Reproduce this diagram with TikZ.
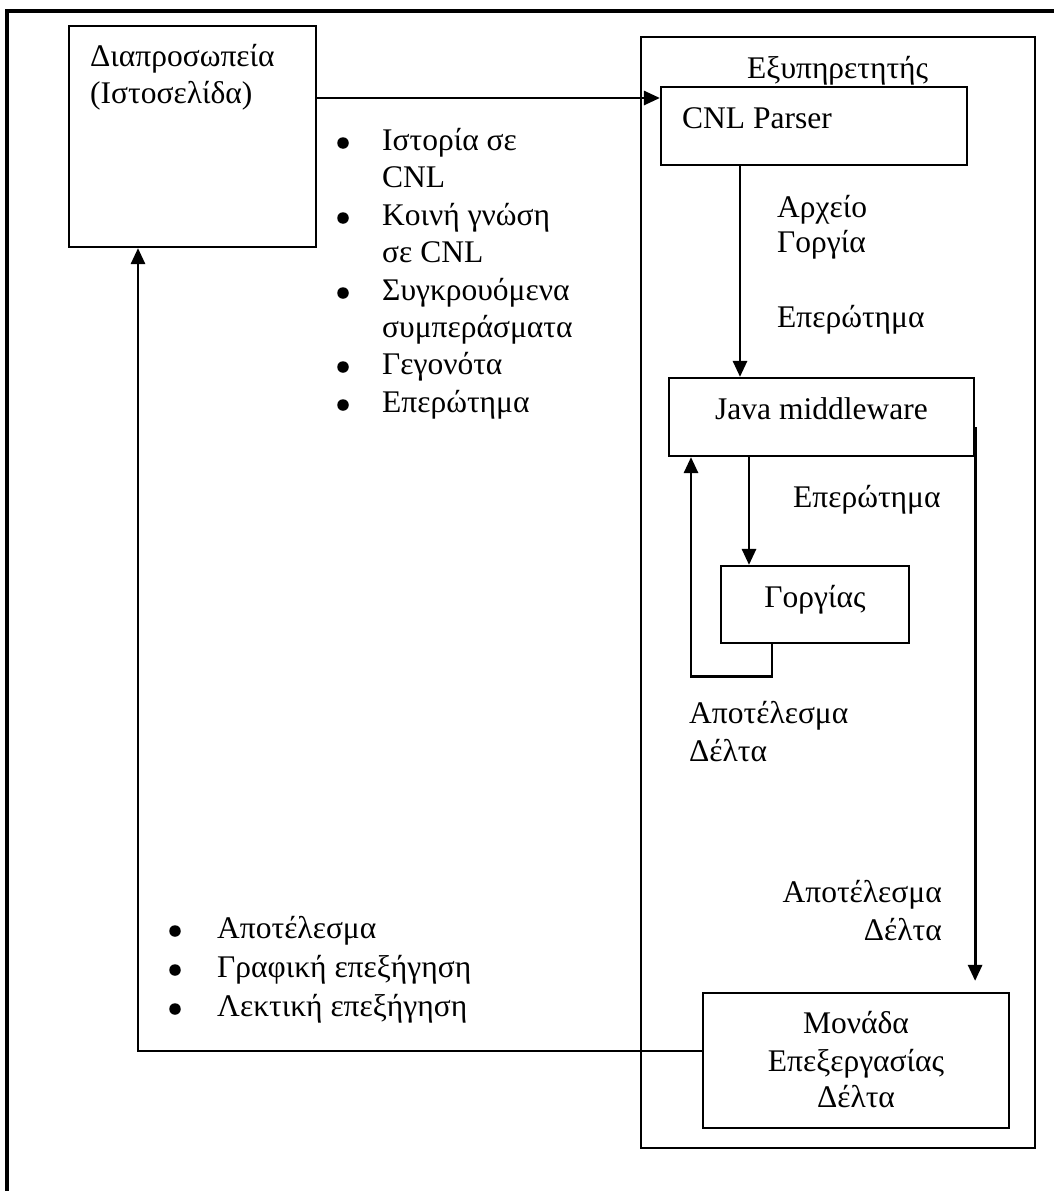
\documentclass[tikz,border=0pt]{standalone}
\usepackage{fontspec}
\setmainfont{Liberation Serif}
\usetikzlibrary{arrows.meta}

\begin{document}
\begin{tikzpicture}[
    x=1pt, y=-1pt,
    box/.style={draw, line width=2.2pt, inner sep=0pt},
    txt/.style={inner sep=0pt, anchor=base west},
    ctxt/.style={inner sep=0pt, anchor=base},
    rtxt/.style={inner sep=0pt, anchor=base east},
    dot/.style={circle, fill=black, inner sep=0pt, minimum size=11.5pt},
    conn/.style={line width=2.8pt},
    >={Triangle[length=16pt, width=14pt]},
    font=\fontsize{31.5}{38}\selectfont
]
    \useasboundingbox (0,0) rectangle (1053,1191);

    % outer frame (open to the right and below)
    \draw[line width=3.2pt] (1060,11) -- (7,11) -- (7,1200);

    % boxes
    \node[box, minimum width=247pt, minimum height=221pt] (iface) at (192.5,136.5) {};   % Διαπροσωπεία
    \node[box, minimum width=394pt, minimum height=1111pt] (server) at (838,592.5) {};   % Εξυπηρετητής
    \node[box, minimum width=306pt, minimum height=78pt] (cnl) at (814,126) {};          % CNL Parser
    \node[box, minimum width=305pt, minimum height=78pt] (java) at (821.5,417) {};       % Java middleware
    \node[box, minimum width=188pt, minimum height=77pt] (gorg) at (815,604.5) {};       % Γοργίας
    \node[box, minimum width=306pt, minimum height=135pt] (monada) at (856,1060.5) {};   % Μονάδα

    % box texts
    \node[txt] (ifaceA) at (90,66) {Διαπροσωπεία};
    \node[txt] (ifaceB) at (90,103) {(Ιστοσελίδα)};
    \node[txt] (servlbl) at (747,78) {Εξυπηρετητής};
    \node[txt] (cnllbl) at (682,128) {CNL Parser};
    \node[ctxt] (javalbl) at (821.5,419) {Java middleware};
    \node[ctxt] (gorglbl) at (815,607) {Γοργίας};
    \node[ctxt] (monA) at (856,1033) {Μονάδα};
    \node[ctxt] (monB) at (856,1071) {Επεξεργασίας};
    \node[ctxt] (monC) at (856,1107) {Δέλτα};

    % 1. Διαπροσωπεία -> CNL Parser
    \draw[conn, ->] ([yshift=38.5pt]iface.east) -- ([yshift=38.5pt]iface.east -| cnl.west);

    % 2. CNL Parser -> Java middleware
    \draw[conn, ->] ([xshift=-74pt]cnl.south) -- ([xshift=-74pt]cnl.south |- java.north);

    % 3. Java middleware -> Γοργίας and back
    \draw[conn, ->] ([xshift=-72.5pt]java.south) -- ([xshift=-72.5pt]java.south |- gorg.north);
    \draw[conn, ->] ([xshift=-43pt]gorg.south) -- ++(0,32) -| ([xshift=-130.5pt]java.south);

    % 4. Java middleware -> Μονάδα
    \draw[conn, ->] ([yshift=-10pt]java.east) -- ([yshift=11pt]java.east |- monada.north);

    % 5. Μονάδα -> Διαπροσωπεία
    \draw[conn, ->] ([yshift=9.5pt]monada.west) -| ([xshift=-54.5pt]iface.south);

    % connector labels
    \node[txt] (arxA) at (777,217) {Αρχείο};
    \node[txt] (arxB) at (777,252) {Γοργία};
    \node[txt] (qry1) at (777,327) {Επερώτημα};
    \node[txt] (qry2) at (793,507) {Επερώτημα};
    \node[txt] (resA) at (689,723) {Αποτέλεσμα};
    \node[txt] (resB) at (689,761) {Δέλτα};
    \node[rtxt] (outA) at (942,902) {Αποτέλεσμα};
    \node[rtxt] (outB) at (942,940) {Δέλτα};

    % input list
    \node[dot] (b1) at (343,143) {};
    \node[txt] (in1) at (382,150) {Ιστορία σε};
    \node[txt] (in1b) at (382,187) {CNL};
    \node[dot] (b2) at (343,218) {};
    \node[txt] (in2) at (382,225) {Κοινή γνώση};
    \node[txt] (in2b) at (382,262) {σε CNL};
    \node[dot] (b3) at (343,293) {};
    \node[txt] (in3) at (382,300) {Συγκρουόμενα};
    \node[txt] (in3b) at (382,337) {συμπεράσματα};
    \node[dot] (b4) at (343,367) {};
    \node[txt] (in4) at (382,374) {Γεγονότα};
    \node[dot] (b5) at (343,405) {};
    \node[txt] (in5) at (382,412) {Επερώτημα};

    % output list
    \node[dot] (c1) at (175,931) {};
    \node[txt] (out1) at (217,938) {Αποτέλεσμα};
    \node[dot] (c2) at (175,970) {};
    \node[txt] (out2) at (217,977) {Γραφική επεξήγηση};
    \node[dot] (c3) at (175,1009) {};
    \node[txt] (out3) at (217,1016) {Λεκτική επεξήγηση};

\end{tikzpicture}
\end{document}
